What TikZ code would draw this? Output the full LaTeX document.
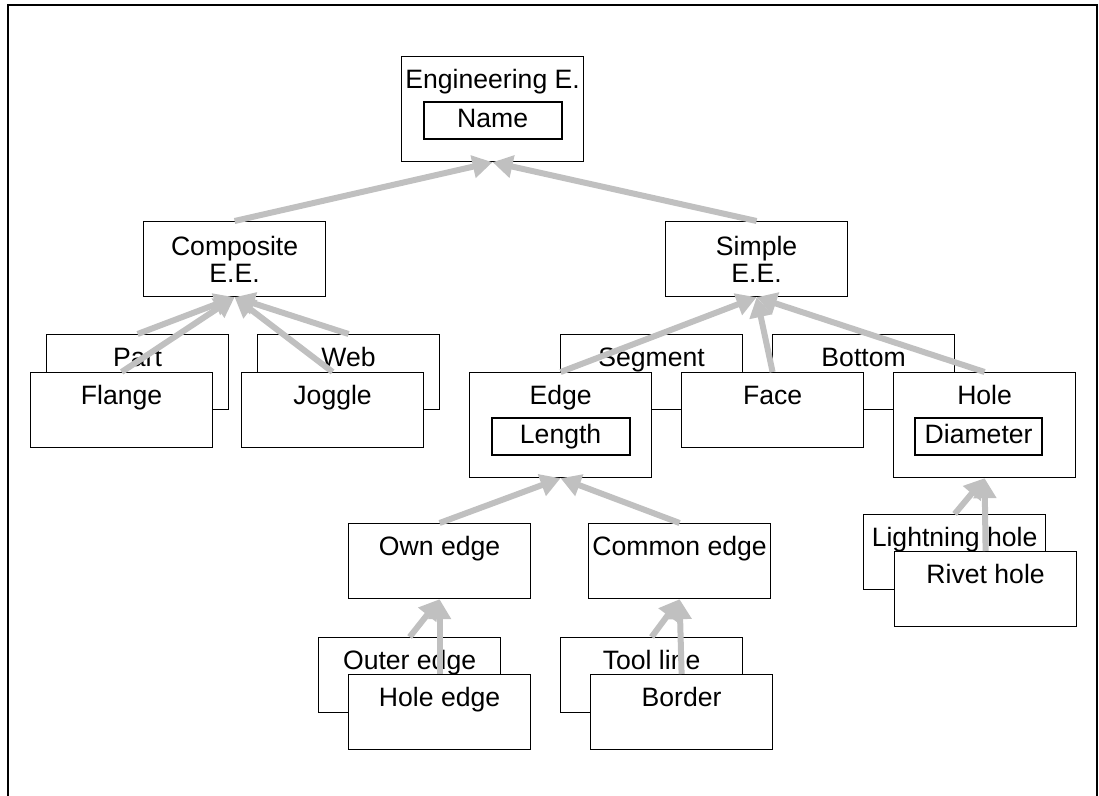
\documentclass[tikz,border=0pt]{standalone}
\usepackage{fontspec}
\setmainfont{Liberation Sans}
\usetikzlibrary{arrows.meta,positioning}

\definecolor{isagray}{HTML}{C0C0C0}

\tikzset{
  box/.style={draw, fill=white, line width=0.6pt, inner sep=0pt,
    minimum width=91pt, minimum height=37.5pt, anchor=north west},
  ent/.style={box, text height=16pt, text depth=21.5pt},
  tallent/.style={box, text height=16pt, text depth=36.5pt, minimum height=52.5pt},
  twoline/.style={box, align=center},
  attr/.style={draw, line width=1pt, inner sep=0pt, minimum height=18.5pt,
    text height=9.8pt, text depth=2.9pt},
  isa/.style={draw=isagray, line width=3pt, -{Triangle[length=10pt,width=11pt]}},
}

\begin{document}
\begin{tikzpicture}[x=0.5pt, y=-0.5pt, font=\fontsize{13.3}{13.5}\selectfont]
            \useasboundingbox (0,0) rectangle (1099,796);
            \draw[line width=1pt] (8,796) -- (8,5) -- (1097,5) -- (1097,796);

            \node[tallent] (eng) at (401,56) {Engineering E.};
            \node[attr, minimum width=69pt, below=22.5pt of eng.north] (name) {Name};

            \node[twoline] (comp) at (143,221) {Composite\\E.E.};
            \node[twoline] (simple) at (665,221) {Simple\\E.E.};

            % back boxes
            \node[ent] (part) at (46,334) {Part};
            \node[ent] (web) at (257,334) {Web};
            \node[ent] (segment) at (560,334) {Segment};
            \node[ent] (bottom) at (772,334) {Bottom};
            \node[ent] (outer) at (318,637) {Outer edge};
            \node[ent] (tool) at (560,637) {Tool line};
            \node[ent] (lightning) at (863,514) {Lightning hole};

            % front boxes
            \node[ent] (flange) at (30,372) {Flange};
            \node[ent] (joggle) at (241,372) {Joggle};
            \node[tallent] (edge) at (469,372) {Edge};
            \node[ent] (face) at (681,372) {Face};
            \node[tallent] (hole) at (893,372) {Hole};
            \node[attr, minimum width=69pt, below=22.5pt of edge.north] (length) {Length};
            \node[attr, minimum width=63.5pt, below=22.5pt of hole.north, xshift=-3pt] (diam) {Diameter};

            \node[ent] (own) at (348,523) {Own edge};
            \node[ent] (common) at (588,523) {Common edge};
            \node[ent] (holeedge) at (348,674) {Hole edge};
            \node[ent] (border) at (590,674) {Border};
            \node[ent] (rivet) at (894,551) {Rivet hole};

            \draw[isa] (comp.north) -- (eng.south);
            \draw[isa] (simple.north) -- (eng.south);

            \draw[isa] (part.north) -- (comp.south);
            \draw[isa] (flange.north) -- (comp.south);
            \draw[isa] (web.north) -- (comp.south);
            \draw[isa] (joggle.north) -- (comp.south);

            \draw[isa] (edge.north) -- (simple.south);
            \draw[isa] (face.north) -- (simple.south);
            \draw[isa] (hole.north) -- (simple.south);

            \draw[isa] (own.north) -- (edge.south);
            \draw[isa] (common.north) -- (edge.south);

            \draw[isa] (outer.north) -- (own.south);
            \draw[isa] (holeedge.north) -- (own.south);
            \draw[isa] (tool.north) -- (common.south);
            \draw[isa] (border.north) -- (common.south);

            \draw[isa] (lightning.north) -- (hole.south);
            \draw[isa] (rivet.north) -- (hole.south);
        \end{tikzpicture}
\end{document}
